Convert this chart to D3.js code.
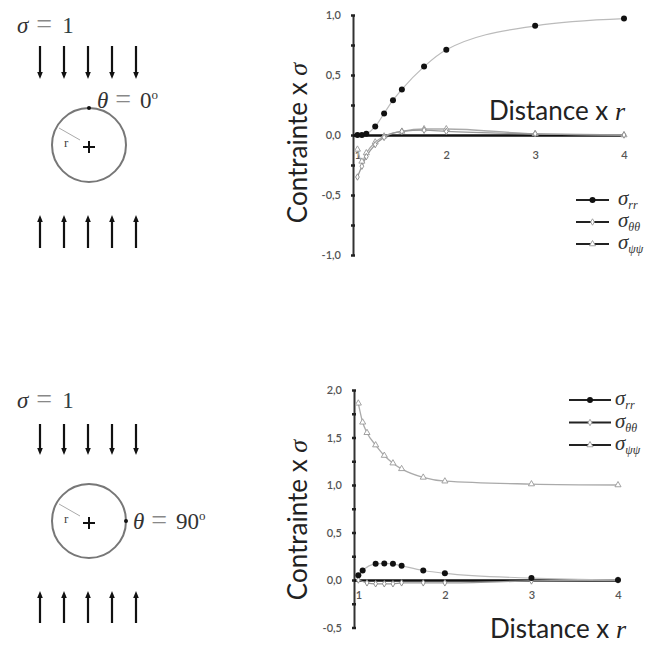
<!DOCTYPE html>
<html><head><meta charset="utf-8">
<script src="https://cdn.jsdelivr.net/npm/d3@7/dist/d3.min.js"></script>
<style>body{margin:0;background:#fff}svg{display:block}</style>
</head><body>
<script>
// ---- data: top chart (theta = 0°) ----
const topRrR   = [1, 1.05, 1.1, 1.2, 1.3, 1.4, 1.5, 1.75, 2, 3, 4];
const topRrV   = [0, 0, 0.01, 0.07, 0.18, 0.29, 0.38, 0.57, 0.71, 0.91, 0.97];
const topTtR   = [1, 1.05, 1.1, 1.2, 1.3, 1.5, 1.75, 2, 3, 4];
const topTtV   = [-0.35, -0.26, -0.18, -0.08, -0.02, 0.03, 0.04, 0.03, 0.01, 0];
const topPpR   = [1, 1.05, 1.1, 1.2, 1.3, 1.5, 1.75, 2, 3, 4];
const topPpV   = [-0.12, -0.22, -0.15, -0.06, -0.01, 0.03, 0.05, 0.05, 0.01, 0];
// ---- data: bottom chart (theta = 90°) ----
const botRrR   = [1, 1.05, 1.2, 1.3, 1.4, 1.5, 1.75, 2, 3, 4];
const botRrV   = [0.05, 0.1, 0.17, 0.175, 0.17, 0.15, 0.1, 0.07, 0.02, 0];
const botTtR   = [1, 1.1, 1.2, 1.3, 1.4, 1.5, 1.75, 2, 3, 4];
const botTtV   = [0, -0.03, -0.04, -0.04, -0.04, -0.03, -0.03, -0.03, -0.01, 0];
const botPpR   = [1, 1.05, 1.1, 1.2, 1.3, 1.4, 1.5, 1.75, 2, 3, 4];
const botPpV   = [1.86, 1.66, 1.55, 1.42, 1.31, 1.23, 1.17, 1.08, 1.04, 1.01, 1.0];
// ---- ticks / labels ----
const xTickVals = [1, 2, 3, 4];
const topYTicks = [-1, -0.75, -0.5, -0.25, 0, 0.25, 0.5, 0.75, 1];
const botYTicks = [-0.5, -0.25, 0, 0.25, 0.5, 0.75, 1, 1.25, 1.5, 1.75, 2];
const legendSubs = ["rr", "θθ", "ψψ"];
const arrowIdx = [0, 1, 2, 3, 4];

const svg = d3.select("body").append("svg").attr("width", 661).attr("height", 646);

const zip = (a, b) => a.map((r, i) => ({r, v: b[i]}));

function chart(cfg) {
  const g = svg.append("g");
  const x = d3.scaleLinear().domain([0.95, 4]).range(cfg.xr);
  const y = d3.scaleLinear().domain(cfg.yd).range(cfg.yr);
  const line = d3.line().x(d => x(d.r)).y(d => y(d.v)).curve(d3.curveMonotoneX);

  // y axis
  const ya = d3.axisLeft(y).tickValues(cfg.yTicks).tickSize(0)
    .tickFormat(d => (Math.abs(d * 2 - Math.round(d * 2)) < 1e-9) ? d3.format(".1f")(d).replace(".", ",").replace("\u2212", "-") : "");
  const yg = g.append("g").attr("transform", `translate(${x(0.95)},0)`).call(ya);
  yg.select(".domain").attr("stroke", "#333").attr("stroke-width", 2);
  yg.selectAll("text").attr("x", -12).attr("font-family", "Lato, sans-serif").attr("font-size", 11).attr("font-weight", 600).attr("fill", "#555");
  yg.selectAll(".tick").append("line").attr("x1", -2).attr("x2", 2).attr("stroke", "#222").attr("stroke-width", 2.5);

  // x axis (at y=0)
  const xa = d3.axisBottom(x).tickValues(xTickVals).tickSize(0).tickFormat(d3.format("d"));
  const xg = g.append("g").attr("transform", `translate(0,${y(0)})`).call(xa);
  xg.select(".domain").attr("stroke", "#111").attr("stroke-width", 2.6);
  xg.selectAll("text").attr("y", cfg.xLabelDy).attr("font-family", "Lato, sans-serif").attr("font-size", 11).attr("font-weight", 600).attr("fill", "#555");

  // series
  const sPp = zip(cfg.pp[0], cfg.pp[1]), sTt = zip(cfg.tt[0], cfg.tt[1]), sRr = zip(cfg.rr[0], cfg.rr[1]);
  g.append("path").datum(sPp).attr("d", line).attr("fill", "none").attr("stroke", "#aaa").attr("stroke-width", 1.3);
  g.append("path").datum(sTt).attr("d", line).attr("fill", "none").attr("stroke", "#999").attr("stroke-width", 1.3);
  g.append("path").datum(sRr).attr("d", line).attr("fill", "none").attr("stroke", "#bbb").attr("stroke-width", 1.2);
  const tri = d3.symbol().type(d3.symbolTriangle).size(16);
  const dia = d3.symbol().type(d3.symbolDiamond).size(12);
  g.selectAll(".pp").data(sPp).join("path").attr("d", tri)
    .attr("transform", d => `translate(${x(d.r)},${y(d.v)})`).attr("fill", "#fff").attr("stroke", "#999").attr("stroke-width", 0.9);
  g.selectAll(".tt").data(sTt).join("path").attr("d", dia)
    .attr("transform", d => `translate(${x(d.r)},${y(d.v)})`).attr("fill", "#fff").attr("stroke", "#888").attr("stroke-width", 0.9);
  g.selectAll(".rr").data(sRr).join("circle").attr("cx", d => x(d.r)).attr("cy", d => y(d.v)).attr("r", 3).attr("fill", "#111");

  // axis titles
  const yl = g.append("text").attr("transform", `translate(${cfg.ylab[0]},${cfg.ylab[1]}) rotate(-90)`)
    .attr("text-anchor", "middle").attr("font-family", "Lato, sans-serif").attr("font-size", 26).attr("fill", "#222");
  yl.append("tspan").text("Contrainte x ");
  yl.append("tspan").attr("font-family", "Liberation Serif, serif").attr("font-style", "italic").text("σ");
  const xl = g.append("text").attr("x", cfg.xlab[0]).attr("y", cfg.xlab[1]).attr("text-anchor", "end")
    .attr("font-family", "Lato, sans-serif").attr("font-size", 26).attr("fill", "#222");
  xl.append("tspan").text("Distance x ");
  xl.append("tspan").attr("font-family", "Liberation Serif, serif").attr("font-style", "italic").text("r");

  // legend
  const lg = g.append("g");
  legendSubs.forEach((s, i) => {
    const yy = cfg.leg.y + i * cfg.leg.dy;
    lg.append("line").attr("x1", cfg.leg.x1).attr("x2", cfg.leg.x2).attr("y1", yy).attr("y2", yy).attr("stroke", "#222").attr("stroke-width", 2);
    const mx = (cfg.leg.x1 + cfg.leg.x2) / 2;
    if (i === 0) lg.append("circle").attr("cx", mx).attr("cy", yy).attr("r", 3).attr("fill", "#111");
    else lg.append("path").attr("d", i === 1 ? dia : tri).attr("transform", `translate(${mx},${yy})`).attr("fill", "#fff").attr("stroke", "#999").attr("stroke-width", 0.9);
    const t = lg.append("text").attr("x", cfg.leg.tx).attr("y", yy + 5).attr("font-family", "Liberation Serif, serif").attr("font-style", "italic").attr("fill", "#333");
    t.append("tspan").attr("font-size", 21).text("σ");
    t.append("tspan").attr("font-size", 12).attr("dy", 4).text(s);
  });
}

chart({xr: [353, 624], yd: [-1, 1], yr: [255, 15], yTicks: topYTicks, xLabelDy: 16,
  rr: [topRrR, topRrV], tt: [topTtR, topTtV], pp: [topPpR, topPpV],
  ylab: [307, 143], xlab: [625, 120], leg: {x1: 576, x2: 609, y: 200, dy: 22, tx: 618}});
chart({xr: [354, 618], yd: [-0.5, 2], yr: [627.5, 390], yTicks: botYTicks, xLabelDy: 11,
  rr: [botRrR, botRrV], tt: [botTtR, botTtV], pp: [botPpR, botPpV],
  ylab: [307, 520], xlab: [626, 638], leg: {x1: 569, x2: 611, y: 400, dy: 22.5, tx: 615}});

// ---- diagrams ----
function diagram(cfg) {
  const g = svg.append("g");
  const ax = d3.scaleLinear().domain([0, 4]).range([40, 136]);
  const t1 = g.append("text").attr("x", 17).attr("y", cfg.sy).attr("font-family", "Liberation Serif, serif").attr("font-size", 23).attr("fill", "#333");
  t1.append("tspan").attr("font-style", "italic").text("σ");
  t1.append("tspan").attr("fill", "#888").attr("font-size", 28).attr("dx", 8).text("=");
  t1.append("tspan").attr("fill", "#2f3f44").attr("dx", 10).text("1");
  const arrow = (x0, ya, yb) => {
    const dir = yb > ya ? 1 : -1;
    g.append("line").attr("x1", x0).attr("x2", x0).attr("y1", ya).attr("y2", yb - dir * 6).attr("stroke", "#111").attr("stroke-width", 2.2);
    g.append("path").attr("d", `M${x0 - 2.8},${yb - dir * 7}L${x0 + 2.8},${yb - dir * 7}L${x0},${yb}Z`).attr("fill", "#111");
  };
  arrowIdx.forEach(i => arrow(ax(i), cfg.down[0], cfg.down[1]));
  arrowIdx.forEach(i => arrow(ax(i), cfg.up[1], cfg.up[0]));
  const cx = 89, cy = cfg.cy, R = 37;
  g.append("circle").attr("cx", cx).attr("cy", cy).attr("r", R).attr("fill", "none").attr("stroke", "#777").attr("stroke-width", 2);
  g.append("line").attr("x1", cx - 9).attr("y1", cy - 5).attr("x2", cx - 30).attr("y2", cy - 17).attr("stroke", "#aaa").attr("stroke-width", 1);
  g.append("text").attr("x", 64).attr("y", cy + 2).attr("font-family", "Liberation Serif, serif").attr("font-size", 13).attr("fill", "#444").text("r");
  g.append("line").attr("x1", cx - 6).attr("x2", cx + 6).attr("y1", cy + 2).attr("y2", cy + 2).attr("stroke", "#111").attr("stroke-width", 2);
  g.append("line").attr("x1", cx).attr("x2", cx).attr("y1", cy - 4).attr("y2", cy + 8).attr("stroke", "#111").attr("stroke-width", 2);
  const a = cfg.angle * Math.PI / 180;
  g.append("circle").attr("cx", cx + R * Math.sin(a)).attr("cy", cy - R * Math.cos(a)).attr("r", 2).attr("fill", "#111");
  const t2 = g.append("text").attr("x", cfg.tx).attr("y", cfg.ty).attr("font-family", "Liberation Serif, serif").attr("font-size", 23).attr("fill", "#333");
  t2.append("tspan").attr("font-style", "italic").text("θ");
  t2.append("tspan").attr("fill", "#888").attr("font-size", 28).attr("dx", 7).text("=");
  t2.append("tspan").attr("dx", 9).text(cfg.label);
  t2.append("tspan").attr("font-size", 13).attr("dy", -9).text("o");
}
diagram({sy: 33, down: [46, 79], up: [215, 248], cy: 145, angle: 0, tx: 97, ty: 108, label: "0"});
diagram({sy: 408, down: [424, 455], up: [591, 623], cy: 521, angle: 90, tx: 133, ty: 529, label: "90"});
</script>
</body></html>
